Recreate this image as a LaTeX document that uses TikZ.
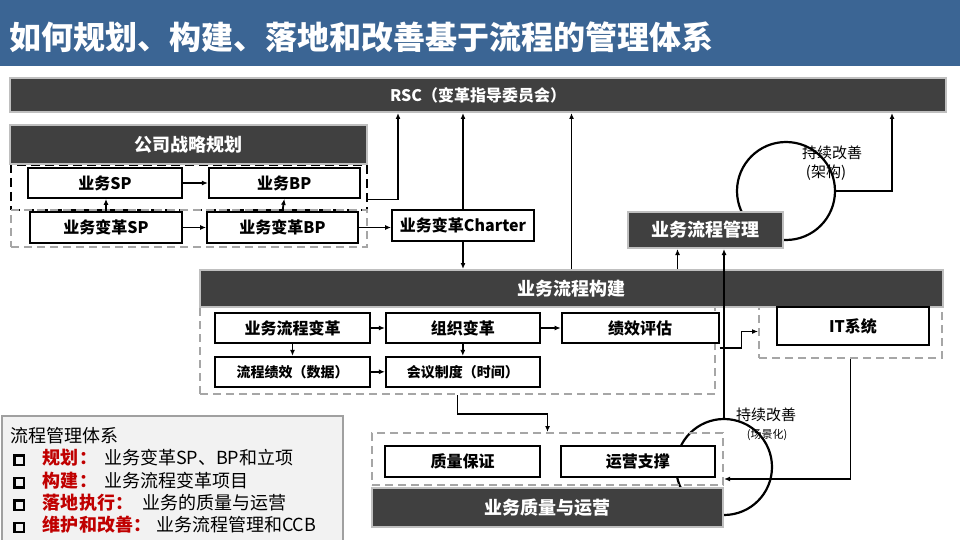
\documentclass[tikz,border=0pt]{standalone}
\usepackage{fontspec}
\setmainfont{Noto Sans CJK SC}
\usepackage{xcolor}
\definecolor{TitleBlue}{HTML}{3B6594}
\definecolor{BarGray}{HTML}{404040}
\definecolor{BarEdge}{HTML}{BFBFBF}
\definecolor{DashGray}{HTML}{A6A6A6}
\definecolor{LabelRed}{HTML}{C00000}
\definecolor{LegendFill}{HTML}{F2F2F2}
\definecolor{LegendEdge}{HTML}{A0A0A0}
\usepackage{tikz}
\usetikzlibrary{arrows.meta,positioning}
\newcommand{\legsq}{\raisebox{1pt}{\setlength{\fboxsep}{0pt}\setlength{\fboxrule}{2.4pt}\fbox{\rule{0pt}{7pt}\rule{7pt}{0pt}}}}
\newcommand{\redlbl}[1]{\textcolor{LabelRed}{\bfseries #1}}

\begin{document}
\begin{tikzpicture}[x=1pt,y=-1pt,
  box/.style={draw,line width=1.8pt,fill=white,font=\bfseries\fontsize{16}{18}\selectfont,minimum height=30pt,inner sep=0pt},
  darkbar/.style={draw=BarEdge,line width=2pt,fill=BarGray,text=white,font=\bfseries\fontsize{18}{20}\selectfont,inner sep=0pt},
  grpblack/.style={draw,line width=1.8pt,dash pattern=on 9pt off 5pt,inner sep=0pt},
  grpgray/.style={draw=DashGray,line width=2pt,dash pattern=on 8pt off 5pt,inner sep=0pt},
  cyc/.style={circle,draw,line width=2.2pt,minimum size=98pt,inner sep=0pt},
  looptxt/.style={font=\fontsize{15}{17}\selectfont,inner sep=0pt},
  arr/.style={-{Latex[length=6pt,width=5pt]},line width=1.8pt}
]
  \useasboundingbox[fill=white] (0,0) rectangle (960,540);
  \fill[TitleBlue] (0,0) rectangle (960,66);
  \node[anchor=west,text=white,font=\bfseries\fontsize{32}{36}\selectfont,inner sep=0pt] (title) at (9,37) {如何规划、构建、落地和改善基于流程的管理体系};

  % RSC
  \node[darkbar,font=\bfseries\fontsize{16}{18}\selectfont,minimum width=936pt,minimum height=34pt] (rsc) at (478,95) {RSC（变革指导委员会）};
  \coordinate (rscA) at (398,0);
  \coordinate (rscB) at (892,0);

  % 公司战略规划
  \node[grpblack,minimum width=356pt,minimum height=45pt] (spgrp) at (189,187.5) {};
  \node[grpgray,minimum width=356pt,minimum height=37pt] (cspgrp) at (189,228.5) {};
  \node[darkbar,minimum width=357pt,minimum height=39pt] (strat) at (188.5,144.5) {公司战略规划};
  \node[box,minimum width=154pt] (sp) at (105,183) {业务SP};
  \node[box,minimum width=151pt,right=25pt of sp] (bp) {业务BP};
  \node[box,minimum width=152pt,minimum height=31pt] (csp) at (106,227.5) {业务变革SP};
  \node[box,minimum width=151pt,minimum height=31pt] (cbp) at (282.5,227.5) {业务变革BP};
  \node[box,minimum width=142pt,minimum height=31pt] (charter) at (463,225.5) {业务变革Charter};

  % 业务流程构建
  \node[grpgray,minimum width=515pt,minimum height=87pt] (procgrp) at (457.5,350.5) {};
  \node[grpgray,minimum width=183pt,minimum height=53pt] (itgrp) at (850.5,331.5) {};
  \node[darkbar,minimum width=743pt,minimum height=37pt] (build) at (571.5,288.5) {业务流程构建};
  \node[box,minimum width=155pt] (bpr) at (292.5,328) {业务流程变革};
  \node[box,minimum width=154pt,right=14pt of bpr] (org) {组织变革};
  \node[box,minimum width=157pt,right=20pt of org] (kpi) {绩效评估};
  \node[box,minimum width=155pt,below=12pt of bpr,font=\bfseries\fontsize{14}{16}\selectfont] (pkpi) {流程绩效（数据）};
  \node[box,minimum width=154pt,below=12pt of org,font=\bfseries\fontsize{14}{16}\selectfont] (meet) {会议制度（时间）};
  \node[box,minimum width=152pt,minimum height=38pt] (it) at (853,326) {IT系统};

  % 业务流程管理
  \node[cyc] (loopA) at (786,191) {};
  \node[looptxt] (loopAt) at (832,153) {持续改善};
  \node[looptxt] (loopAs) at (826,173) {(架构)};
  \node[darkbar,minimum width=155pt,minimum height=36pt] (mgmt) at (705.5,230) {业务流程管理};
  \coordinate (mgmtL) at ([xshift=-28pt]mgmt.south);

  % 业务质量与运营
  \node[cyc,minimum size=96pt] (loopB) at (724,467) {};
  \node[grpgray,minimum width=351pt,minimum height=52pt] (lowgrp) at (547.5,459) {};
  \node[box,minimum width=155pt,minimum height=31pt] (qa) at (462.5,461.5) {质量保证};
  \node[box,minimum width=154pt,minimum height=31pt,right=19pt of qa] (ops) {运营支撑};
  \node[darkbar,minimum width=351pt,minimum height=39pt] (qual) at (547.5,507.5) {业务质量与运营};
  \node[looptxt] (loopBt) at (766,415) {持续改善};
  \node[looptxt,font=\fontsize{11}{13}\selectfont] (loopBs) at (767,435) {(场景化)};

  % 说明
  \node[draw=LegendEdge,line width=1.5pt,fill=LegendFill,minimum width=341pt,minimum height=130pt,inner sep=0pt] (legbox) at (172.5,481) {};
  \node[anchor=north west,align=left,inner sep=0pt,font=\fontsize{18}{22.4}\selectfont] (legend) at (10,427) {流程管理体系\\
    \hspace*{3pt}\legsq\hspace{18pt}\redlbl{规划：}\hspace{7pt}业务变革SP、BP和立项\\
    \hspace*{3pt}\legsq\hspace{18pt}\redlbl{构建：}\hspace{7pt}业务流程变革项目\\
    \hspace*{3pt}\legsq\hspace{18pt}\redlbl{落地执行：}\hspace{9pt}业务的质量与运营\\
    \hspace*{3pt}\legsq\hspace{18pt}\redlbl{维护和改善：}\hspace{5pt}业务流程管理和CCB};

  % 连线
  \draw[arr] (sp.east) -- (bp.west);
  \draw[arr] (csp.east) -- (cbp.west);
  \draw[arr] (csp.north) -- (csp.north |- sp.south);
  \draw[arr] (cbp.north) -- (bp.south);
  \draw[arr] (cbp.east) -- (cbp.east -| charter.west);
  \draw[arr] ([yshift=-12pt]spgrp.east) -| (rsc.south -| rscA);
  \draw[arr] (charter.north) -- (charter.north |- rsc.south);
  \draw[arr] (charter.south) -- (charter.south |- build.north);
  \draw[arr] (build.north) -- (build.north |- rsc.south);
  \draw[arr] (loopA.east) -| (rsc.south -| rscB);
  \draw[arr] (mgmtL |- build.north) -- (mgmtL);
  \draw[arr] (loopB.north) -- (loopB.north |- mgmt.south);
  \draw[arr] (bpr.east) -- (org.west);
  \draw[arr] (org.east) -- (kpi.west);
  \draw[arr] (bpr.south) -- (pkpi.north);
  \draw[arr] (org.south) -- (meet.north);
  \draw[arr] (pkpi.east) -- (meet.west);
  \draw[arr] ([yshift=-20pt]kpi.east) -- ++(22,0) |- (itgrp.west);
  \draw[arr] (itgrp.south) |- ([yshift=-20pt]lowgrp.east);
  \draw[arr] (procgrp.south) -- ++(0,19) -| (lowgrp.north);
\end{tikzpicture}
\end{document}
